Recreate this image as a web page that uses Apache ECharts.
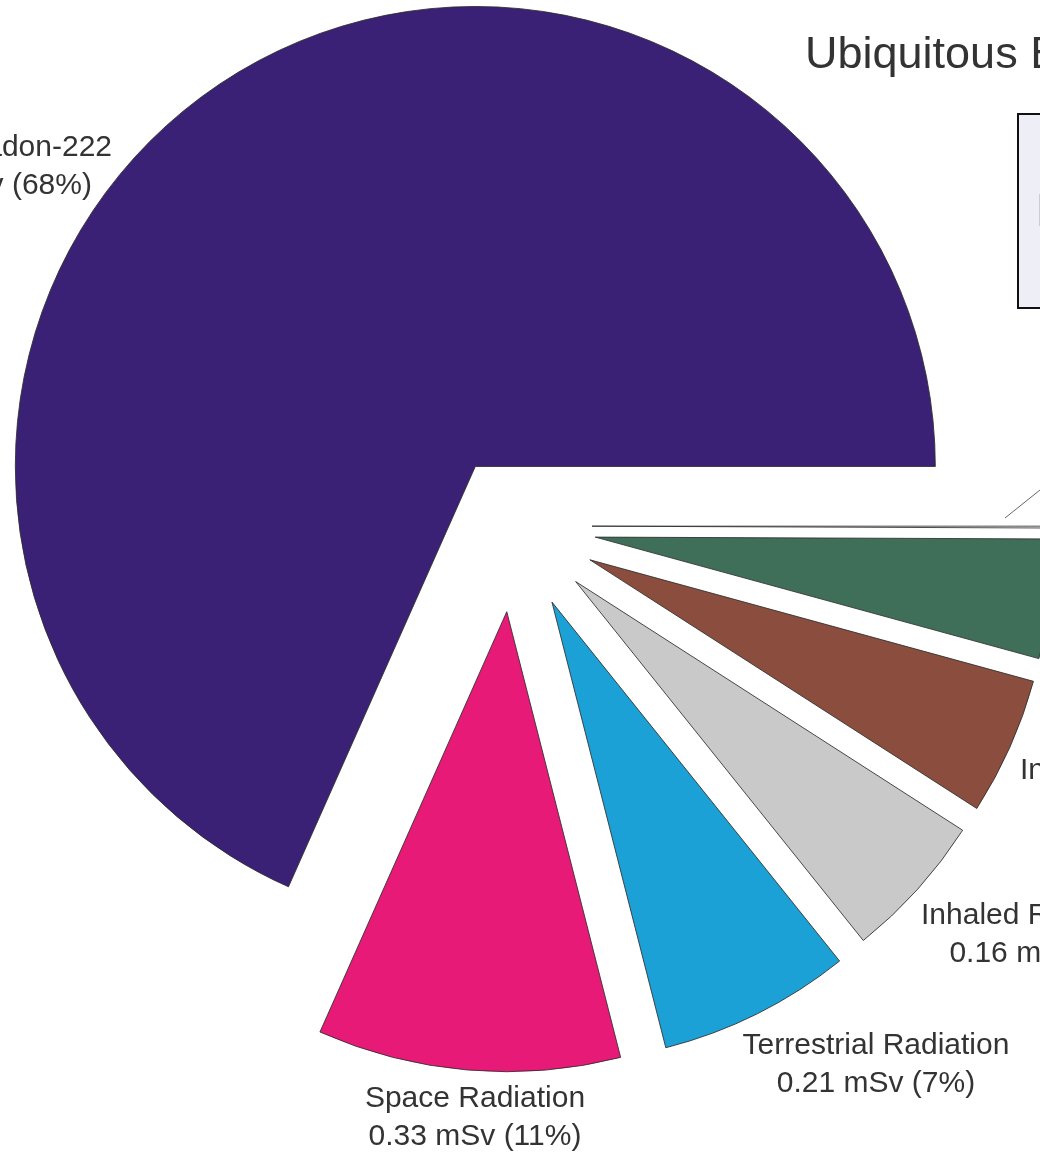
<!DOCTYPE html>
<html>
<head>
<meta charset="utf-8">
<script src="https://cdn.jsdelivr.net/npm/echarts@6/dist/echarts.min.js"></script>
<style>
html,body{margin:0;padding:0;background:#ffffff;}
#chart{width:1040px;height:1155px;}
</style>
</head>
<body>
<div id="chart"></div>
<script>
// ---- data ----
const categories = ['Inhaled Radon-222', 'Space Radiation', 'Terrestrial Radiation', 'Inhaled Radon-220', 'Ingested Potassium-40', 'Ingested Uranium & Thorium', 'Ingested Carbon-14'];
const dosesMSv = [2.12, 0.33, 0.21, 0.16, 0.15, 0.13, 0.002];
const titleText = 'Ubiquitous Background Radiation';
const boxText = 'Natural sources';

// ---- styling / layout (not data) ----
const sliceColors = ['#3b2175', '#e81a78', '#1ca1d6', '#c9c9c9', '#8b4e3e', '#3f6f58', '#ffffff'];
const PIE_CENTER = [514, 526];
const PIE_RADIUS = 460;
const EXPLODE = [71, 86, 85, 83, 83, 82, 78];
const LABEL_SPOTS = [
  {x: 112, y: 167, align: 'right'},
  {x: 475, y: 1118, align: 'center'},
  {x: 876, y: 1065, align: 'center'},
  {x: 921, y: 935, align: 'left'},
  {x: 1020, y: 790, align: 'left'},
  {x: 1090, y: 620, align: 'left'},
  {x: 1100, y: 400, align: 'left'}
];
const FONT = '"Liberation Sans", Arial, Helvetica, sans-serif';

const total = dosesMSv.reduce((s, v) => s + v, 0);
let acc = 0;
const midAngles = dosesMSv.map(v => { const a0 = acc; acc += v; return (a0 + v / 2) / total * 2 * Math.PI; });

function fmtDose(v) { return v < 0.01 ? '<0.01' : v.toFixed(2); }
function fmtPct(p) { return p < 1 ? '<1' : Math.round(p); }

const series = categories.map((name, i) => {
  const c = [PIE_CENTER[0] + EXPLODE[i] * Math.cos(midAngles[i]), PIE_CENTER[1] - EXPLODE[i] * Math.sin(midAngles[i])];
  return {
    type: 'pie',
    silent: true,
    animation: false,
    center: c,
    radius: PIE_RADIUS,
    startAngle: 0,
    clockwise: false,
    avoidLabelOverlap: false,
    emphasis: {disabled: true},
    labelLine: {show: false},
    labelLayout: function () {
      const s = LABEL_SPOTS[i];
      return {x: s.x, y: s.y, align: s.align, verticalAlign: 'middle'};
    },
    data: categories.map((n, j) => {
      const on = (j === i);
      return {
        name: n,
        value: dosesMSv[j],
        itemStyle: on ? {color: sliceColors[j], borderColor: 'rgba(45,45,45,0.85)', borderWidth: 1}
                      : {color: 'rgba(0,0,0,0)', borderWidth: 0},
        label: on ? {
          show: true,
          position: 'outside',
          formatter: p => '{t|' + p.name + '}\n{t|' + fmtDose(p.value) + ' mSv (' + fmtPct(p.percent) + '%)}',
          rich: {t: {align: 'center', fontSize: 30, lineHeight: 38, color: '#333333', fontFamily: FONT}}
        } : {show: false}
      };
    })
  };
});

const chart = echarts.init(document.getElementById('chart'), null, {renderer: 'canvas'});
chart.setOption({
  backgroundColor: '#ffffff',
  animation: false,
  title: {
    text: titleText,
    left: 800,
    top: 28,
    textStyle: {fontSize: 45, fontWeight: 'normal', color: '#333333', fontFamily: FONT}
  },
  graphic: [
    {type: 'rect', left: 1017, top: 113, shape: {width: 120, height: 194},
     style: {fill: '#eeeef6', stroke: '#111111', lineWidth: 2}},
    {type: 'text', left: 1036, top: 190,
     style: {text: boxText, fontSize: 46, fill: '#555555', font: '46px ' + FONT}},
    {type: 'line', shape: {x1: 1005, y1: 518, x2: 1050, y2: 482},
     style: {stroke: '#666666', lineWidth: 1}}
  ],
  series: series
});
</script>
</body>
</html>
